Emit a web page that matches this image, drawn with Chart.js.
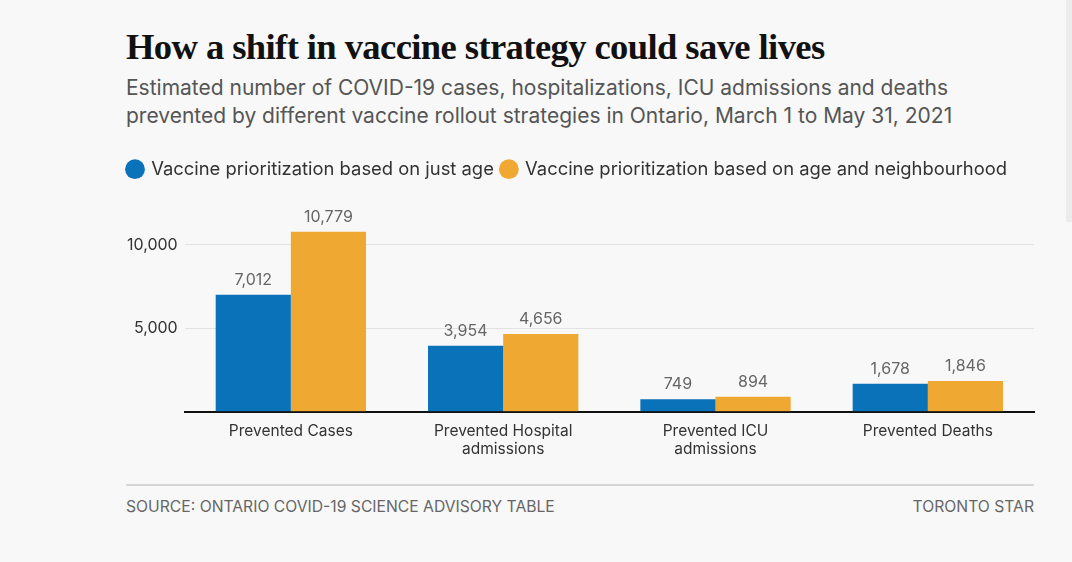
<!DOCTYPE html>
<html>
<head>
<meta charset="utf-8">
<script src="https://cdn.jsdelivr.net/npm/chart.js@4"></script>
<style>
  html, body { margin: 0; padding: 0; }
  body { width: 1072px; height: 562px; background: #f8f8f8; position: relative; overflow: hidden; font-family: Inter, sans-serif; }
  .title { position: absolute; left: 126px; top: 25px; font-family: "Liberation Serif", serif; font-weight: bold; font-size: 36.6px; letter-spacing: -0.6px; color: #111; white-space: nowrap; }
  .sub { position: absolute; left: 126px; top: 74px; font-size: 21px; line-height: 28px; color: #555; white-space: nowrap; }
  .chart-box { position: absolute; left: 120px; top: 152px; width: 920px; height: 309px; }
  .rule { position: absolute; left: 126px; top: 484px; width: 908px; height: 2px; background: #d6d6d6; }
  .foot { position: absolute; top: 497px; font-family: Inter, sans-serif; font-size: 15.7px; color: #666; }
  .scroll { position: absolute; left: 1066px; top: 0; width: 6px; height: 222px; background: #ececec; }
</style>
</head>
<body>
<div class="title">How a shift in vaccine strategy could save lives</div>
<div class="sub">Estimated number of COVID-19 cases, hospitalizations, ICU admissions and deaths<br>prevented by different vaccine rollout strategies in Ontario, March 1 to May 31, 2021</div>
<div class="chart-box"><canvas id="c"></canvas></div>
<div class="rule"></div>
<div class="foot" style="left:126px">SOURCE: ONTARIO COVID-19 SCIENCE ADVISORY TABLE</div>
<div class="foot" style="right:38px">TORONTO STAR</div>
<div class="scroll"></div>
<script>
const categories = ['Prevented Cases', ['Prevented Hospital', 'admissions'], ['Prevented ICU', 'admissions'], 'Prevented Deaths'];
const justAge = [7012, 3954, 749, 1678];
const ageAndNeighbourhood = [10779, 4656, 894, 1846];
const yTicks = [0, 5000, 10000];

// numbers above the bars
const valueLabels = {
  id: 'valueLabels',
  afterDatasetsDraw(chart) {
    const ctx = chart.ctx;
    ctx.save();
    ctx.font = '16px Inter';
    ctx.fillStyle = '#666';
    ctx.textAlign = 'center';
    ctx.textBaseline = 'bottom';
    chart.data.datasets.forEach(function(ds, i) {
      chart.getDatasetMeta(i).data.forEach(function(bar, j) {
        ctx.fillText(ds.data[j].toLocaleString('en-US'), bar.x, bar.y - 7);
      });
    });
    ctx.restore();
  }
};

// extra space between legend and plot
const legendGap = {
  id: 'legendGap',
  beforeInit(chart) {
    const fit = chart.legend.fit;
    chart.legend.fit = function() {
      fit.bind(chart.legend)();
      this.height += 23;
    };
  }
};

new Chart(document.getElementById('c'), {
  type: 'bar',
  data: {
    labels: categories,
    datasets: [
      { label: 'Vaccine prioritization based on just age', data: justAge, backgroundColor: '#0a72b8' },
      { label: 'Vaccine prioritization based on age and neighbourhood', data: ageAndNeighbourhood, backgroundColor: '#efa933' }
    ]
  },
  options: {
    responsive: true,
    maintainAspectRatio: false,
    animation: false,
    categoryPercentage: 0.708,
    barPercentage: 1,
    layout: { padding: { right: 6, left: 0 } },
    plugins: {
      tooltip: { enabled: false },
      legend: {
        align: 'start',
        labels: {
          usePointStyle: true,
          pointStyle: 'circle',
          boxWidth: 14,
          boxHeight: 14,
          padding: 8,
          color: '#333',
          font: { family: 'Inter', size: 18.4 }
        }
      }
    },
    scales: {
      x: {
        grid: { display: false },
        border: { color: '#111', width: 2 },
        ticks: { color: '#333', font: { family: 'Inter', size: 15.5 }, padding: 2 }
      },
      y: {
        min: 0,
        max: 12000,
        afterBuildTicks: function(axis) { axis.ticks = yTicks.map(function(v) { return { value: v }; }); },
        border: { display: false },
        grid: {
          drawTicks: false,
          color: function(c) { return c.tick && c.tick.value === 0 ? 'rgba(0,0,0,0)' : '#e2e2e2'; }
        },
        ticks: {
          color: '#333',
          padding: 7,
          font: { family: 'Inter', size: 16 },
          callback: function(v) { return v === 0 ? '' : v.toLocaleString('en-US'); }
        }
      }
    }
  },
  plugins: [valueLabels, legendGap]
});
</script>
</body>
</html>
